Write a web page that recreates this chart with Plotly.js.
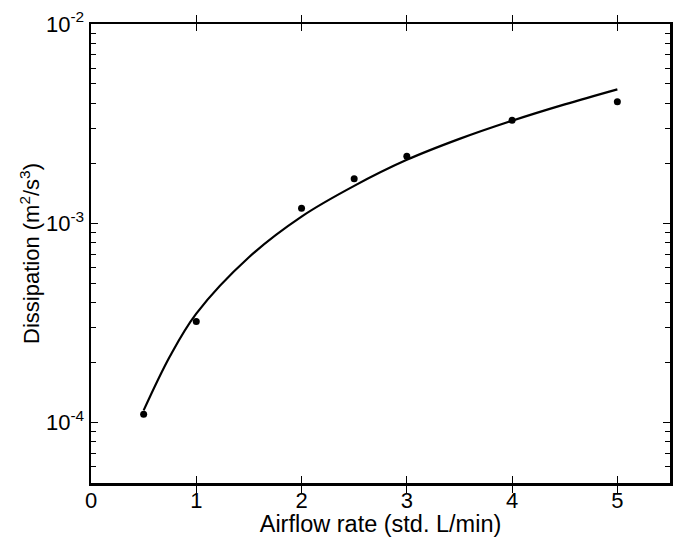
<!DOCTYPE html>
<html>
<head>
<meta charset="utf-8">
<script src="https://cdn.plot.ly/plotly-3.0.1.min.js"></script>
<style>html,body{margin:0;padding:0;background:#fff;}#chart{width:678px;height:537px;}</style>
</head>
<body>
<div id="chart"></div>
<script>
// Measured data points
const airflow = [0.5, 1, 2, 2.5, 3, 4, 5];
const dissipation = [1.10e-4, 3.21e-4, 1.19e-3, 1.67e-3, 2.17e-3, 3.29e-3, 4.07e-3];

// Fitted curve
const fitX = [0.5, 0.75, 1, 1.5, 2, 2.5, 3, 3.5, 4, 4.5, 5];
const fitY = [1.15e-4, 2.15e-4, 3.52e-4, 6.75e-4, 1.08e-3, 1.54e-3, 2.08e-3, 2.65e-3, 3.27e-3, 3.95e-3, 4.70e-3];

const xTickVals = [0, 1, 2, 3, 4, 5];
const yTickVals = [1e-4, 1e-3, 1e-2];
const yTickText = ['10<sup>-4</sup>', '10<sup>-3</sup>', '10<sup>-2</sup>'];

const fam = 'Liberation Sans, Arial, sans-serif';
const tickFont = {family: fam, size: 22, color: '#000'};
const xTitleFont = {family: fam, size: 23.5, color: '#000'};
const yTitleFont = {family: fam, size: 22, color: '#000'};
const yRange = [-4.304, -2];

const traces = [
  {x: fitX, y: fitY, yaxis: 'y2', mode: 'lines', line: {color: '#000', width: 2.2, shape: 'spline'}, hoverinfo: 'skip'},
  {x: airflow, y: dissipation, mode: 'markers', marker: {color: '#000', size: 7}}
];

const layout = {
  width: 678, height: 537,
  margin: {l: 91, r: 8, t: 24, b: 54},
  paper_bgcolor: '#fff', plot_bgcolor: '#fff',
  showlegend: false,
  font: tickFont,
  xaxis: {
    range: [0, 5.5], tickmode: 'array', tickvals: xTickVals,
    ticks: 'inside', ticklen: 7, tickwidth: 1, tickcolor: '#000',
    showline: true, linecolor: '#000', linewidth: 2.5, mirror: 'allticks',
    showgrid: false, zeroline: false,
    tickfont: tickFont,
    ticklabelstandoff: -4,
    title: {text: 'Airflow rate (std. L/min)', font: xTitleFont, standoff: 2}
  },
  yaxis: {
    type: 'log', range: yRange,
    tickmode: 'array', tickvals: yTickVals, ticktext: yTickText,
    ticks: '', showline: true, linecolor: '#000', linewidth: 2.5, mirror: true,
    showgrid: false, zeroline: false,
    tickfont: tickFont,
    ticklabelstandoff: 0,
    title: {text: 'Dissipation (m<sup>2</sup>/s<sup>3</sup>)', font: yTitleFont, standoff: 0}
  },
  yaxis2: {
    type: 'log', range: yRange, overlaying: 'y', side: 'left',
    tickmode: 'linear', tick0: 0, dtick: 1,
    ticks: 'inside', ticklen: 7, tickwidth: 1, tickcolor: '#000',
    minor: {dtick: 'D1', ticks: 'inside', ticklen: 5, tickwidth: 1, tickcolor: '#000', showgrid: false},
    showticklabels: false,
    showline: true, linecolor: '#000', linewidth: 2.5, mirror: 'allticks',
    showgrid: false, zeroline: false
  }
};

Plotly.newPlot('chart', traces, layout, {staticPlot: true});
</script>
</body>
</html>
